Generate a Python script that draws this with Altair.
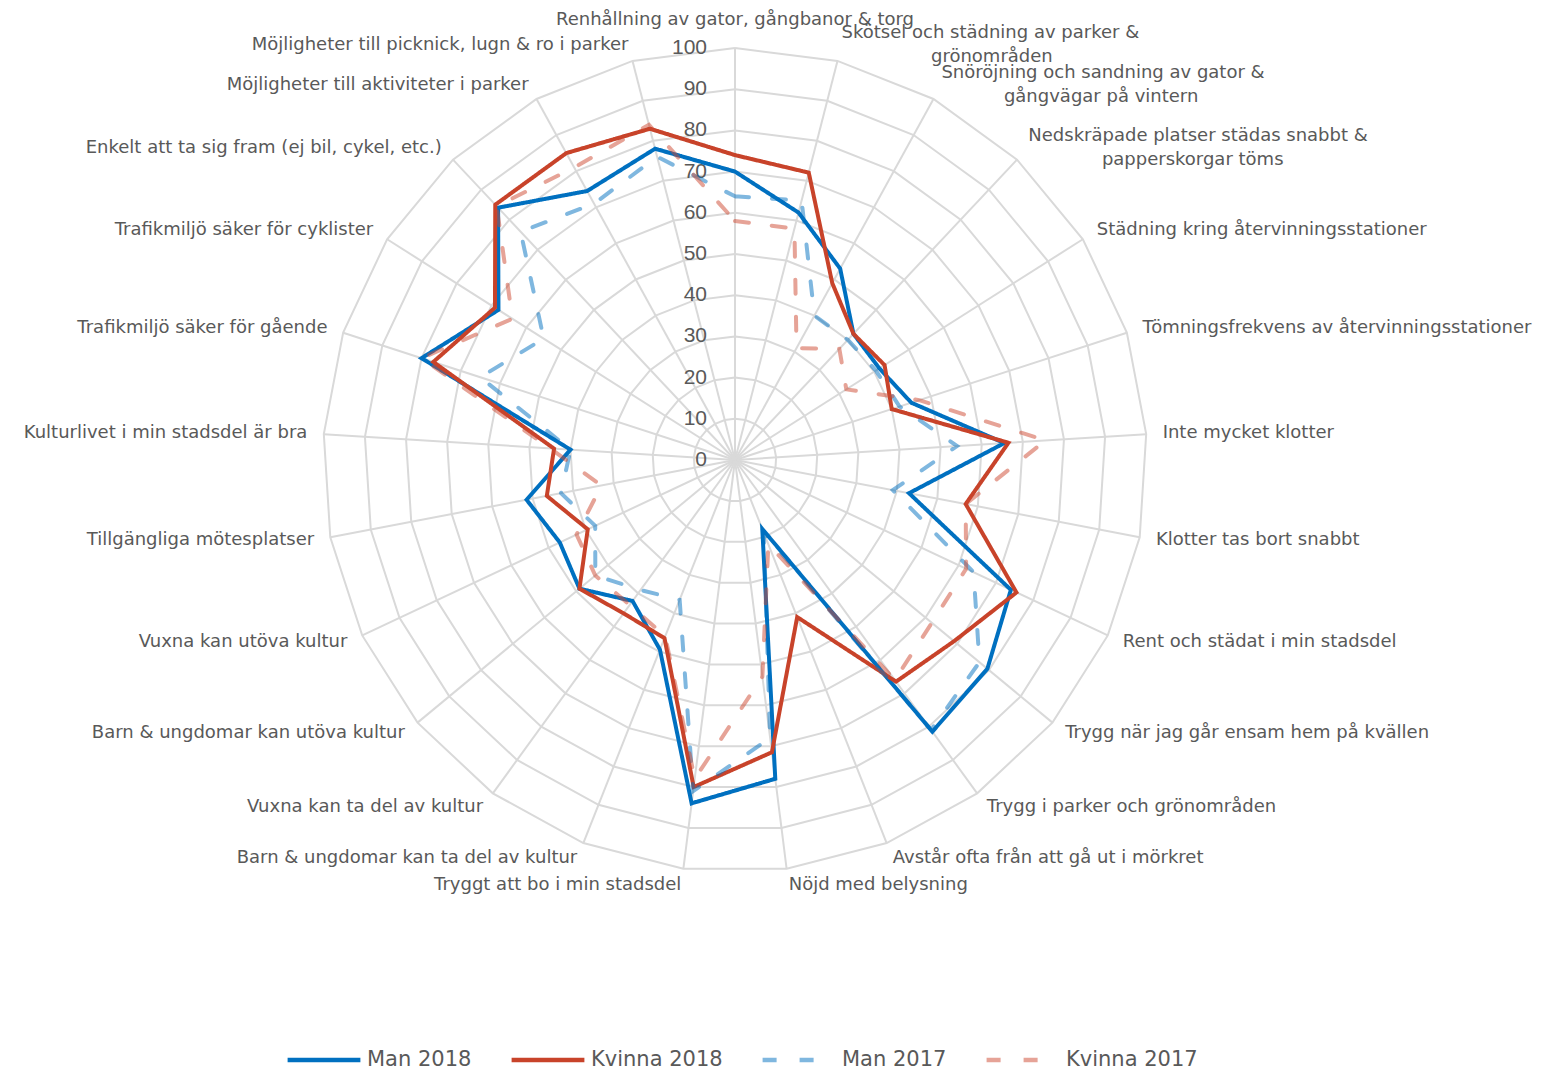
import altair as alt
import pandas as pd

categories = [
    "Renhållning av gator, gångbanor & torg",
    "Skötsel och städning av parker &\ngrönområden",
    "Snöröjning och sandning av gator &\ngångvägar på vintern",
    "Nedskräpade platser städas snabbt &\npapperskorgar töms",
    "Städning kring återvinningsstationer",
    "Tömningsfrekvens av återvinningsstationer",
    "Inte mycket klotter",
    "Klotter tas bort snabbt",
    "Rent och städat i min stadsdel",
    "Trygg när jag går ensam hem på kvällen",
    "Trygg i parker och grönområden",
    "Avstår ofta från att gå ut i mörkret",
    "Nöjd med belysning",
    "Tryggt att bo i min stadsdel",
    "Barn & ungdomar kan ta del av kultur",
    "Vuxna kan ta del av kultur",
    "Barn & ungdomar kan utöva kultur",
    "Vuxna kan utöva kultur",
    "Tillgängliga mötesplatser",
    "Kulturlivet i min stadsdel är bra",
    "Trafikmiljö säker för gående",
    "Trafikmiljö säker för cyklister",
    "Enkelt att ta sig fram (ej bil, cykel, etc.)",
    "Möjligheter till aktiviteter i parker",
    "Möjligheter till picknick, lugn & ro i parker",
]

man_2018 = [70, 62, 53, 42, 41.5, 45, 65.5, 43, 74, 79.5, 81.5, 18, 78, 84, 49.5, 42.3, 49, 47, 51.5, 40, 80, 68, 84, 74.5, 78]
kvinna_2018 = [74, 72, 49, 42, 43, 40, 66.5, 57, 75.5, 69, 66.5, 41, 71.5, 80, 46.5, 46, 49, 39.5, 46.5, 44, 77, 69, 85, 85, 83]
man_2017 = [64, 65, 40, 40, 40.5, 42, 54, 39, 64, 77, 81, 19, 68, 81, 36.5, 39, 44, 37.5, 43, 40, 65, 55, 76, 71, 76]
kvinna_2017 = [58, 58, 31, 37, 32, 47, 75.5, 57, 62, 62, 66, 22, 53, 78, 46, 43.5, 44, 42.5, 33, 45, 80, 64, 84.5, 81, 84]

series_names = ["Man 2018", "Kvinna 2018", "Man 2017", "Kvinna 2017"]
series_values = [man_2018, kvinna_2018, man_2017, kvinna_2017]
series_colors = ["#0070C0", "#C8432A", "rgba(0,112,192,0.5)", "rgba(206,72,48,0.5)"]
series_dash = [[1, 0], [1, 0], [14, 23], [14, 23]]

ring_levels = [10, 20, 30, 40, 50, 60, 70, 80, 90, 100]
tick_values = [0, 10, 20, 30, 40, 50, 60, 70, 80, 90, 100]
tick_labels = ["0", "10", "20", "30", "40", "50", "60", "70", "80", "90", "100"]

N = len(categories)
GRID = "#D9D9D9"
TEXT = "#595959"
FONT = "Liberation Sans"
LFONT = "DejaVu Sans"

# ---- data tables built from the arrays ----
rows = []
for name, vals in zip(series_names, series_values):
    for i in range(N + 1):
        rows.append({"series": name, "idx": i, "value": vals[i % N]})
series_df = pd.DataFrame(rows)

ring_rows = []
for lv in ring_levels:
    for i in range(N + 1):
        ring_rows.append({"level": lv, "idx": i})
ring_df = pd.DataFrame(ring_rows)

spoke_df = pd.DataFrame({"idx": list(range(N))})
parts = [c.split("\n") for c in categories]
label_df = pd.DataFrame({
    "idx": list(range(N)),
    "line1": [p[0] for p in parts],
    "line2": [p[1] if len(p) > 1 else "" for p in parts],
    "nlines": [len(p) for p in parts],
    "len1": [len(p[0]) for p in parts],
})
tick_df = pd.DataFrame({"v": tick_values, "t": tick_labels})

xs = alt.Scale(domain=[-100, 100], nice=False, zero=False)
ys = alt.Scale(domain=[-100, 100], nice=False, zero=False)
ang = f"2*PI*datum.idx/{N}"

# grid rings
rings = alt.Chart(ring_df).transform_calculate(
    px=f"datum.level*sin({ang})", py=f"datum.level*cos({ang})"
).mark_line(stroke=GRID, strokeWidth=2).encode(
    x=alt.X("px:Q", scale=xs, axis=None),
    y=alt.Y("py:Q", scale=ys, axis=None),
    detail="level:N",
    order="idx:Q",
)

# spokes
spokes = alt.Chart(spoke_df).transform_calculate(
    zero="0", px=f"100*sin({ang})", py=f"100*cos({ang})"
).mark_rule(stroke=GRID, strokeWidth=2).encode(
    x=alt.X("zero:Q", scale=xs, axis=None),
    y=alt.Y("zero:Q", scale=ys, axis=None),
    x2="px:Q",
    y2="py:Q",
)

# tick labels
ticks = alt.Chart(tick_df).transform_calculate(zero="0").mark_text(
    align="right", baseline="middle", dx=-28, font=FONT, fontSize=21, color=TEXT
).encode(
    x=alt.X("zero:Q", scale=xs, axis=None),
    y=alt.Y("v:Q", scale=ys, axis=None),
    text="t:N",
)

# category labels
lab_base = alt.Chart(label_df).transform_calculate(
    s=f"sin({ang})", c=f"cos({ang})"
).transform_calculate(
    lx="104*datum.s", ly="104*datum.c",
    lx2="104*datum.s + datum.len1*1.14",
)

def enc(xf, tf):
    return dict(
        x=alt.X(f"{xf}:Q", scale=xs, axis=None),
        y=alt.Y("ly:Q", scale=ys, axis=None),
        text=f"{tf}:N",
    )

st = dict(baseline="middle", font=LFONT, fontSize=18, color=TEXT)
one = lab_base.transform_filter("datum.nlines == 1")
multi = lab_base.transform_filter("datum.nlines > 1")
lab_left = one.transform_filter("datum.s > 0.01").mark_text(align="left", **st).encode(**enc("lx", "line1"))
lab_right = one.transform_filter("datum.s < -0.01").mark_text(align="right", **st).encode(**enc("lx", "line1"))
lab_center = one.transform_filter("abs(datum.s) <= 0.01").mark_text(align="center", dy=-12, **st).encode(**enc("lx", "line1"))
lab_m1 = multi.mark_text(align="left", dy=-12, **st).encode(**enc("lx", "line1"))
lab_m2 = multi.mark_text(align="center", dy=12, **st).encode(**enc("lx2", "line2"))

# series lines
legend = alt.Legend(
    title=None, orient="none", legendX=-38, legendY=973, direction="horizontal",
    symbolType="stroke", symbolSize=5300, symbolStrokeWidth=4.5,
    labelFont=LFONT, labelFontSize=21, labelColor=TEXT, columnPadding=30, labelOffset=4,
)
color_scale = alt.Scale(domain=series_names, range=series_colors)
dash_scale = alt.Scale(domain=series_names, range=series_dash)

series_layers = []
for name in series_names:
    layer = alt.Chart(series_df).transform_filter(
        alt.datum.series == name
    ).transform_calculate(
        px=f"datum.value*sin({ang})", py=f"datum.value*cos({ang})"
    ).mark_line(strokeWidth=4, strokeCap="round", strokeJoin="miter").encode(
        x=alt.X("px:Q", scale=xs, axis=None),
        y=alt.Y("py:Q", scale=ys, axis=None),
        order="idx:Q",
        color=alt.Color("series:N", scale=color_scale, legend=legend),
        strokeDash=alt.StrokeDash("series:N", scale=dash_scale, legend=legend),
    )
    series_layers.append(layer)

chart = alt.layer(
    rings, spokes, ticks, lab_left, lab_right, lab_center, lab_m1, lab_m2, *series_layers
).properties(
    width=824, height=824,
    autosize=alt.AutoSizeParams(type="none"),
    padding={"left": 315, "top": 40, "right": 400, "bottom": 200},
).configure_view(stroke=None)

chart.save("out.html", embed_options={"renderer": "svg", "actions": False})
